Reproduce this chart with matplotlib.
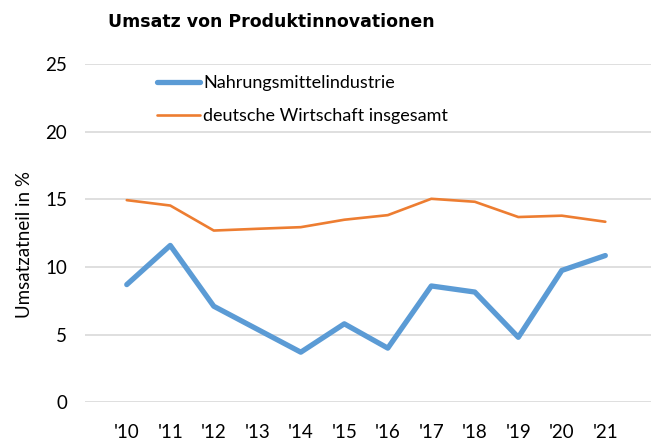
import matplotlib
matplotlib.use("Agg")
import matplotlib.pyplot as plt

years = ["'10", "'11", "'12", "'13", "'14", "'15", "'16", "'17", "'18", "'19", "'20", "'21"]
nahrung = [8.7, 11.6, 7.1, 5.4, 3.7, 5.8, 4.0, 8.6, 8.15, 4.8, 9.75, 10.85]
gesamt = [14.95, 14.55, 12.7, 12.83, 12.95, 13.5, 13.84, 15.05, 14.83, 13.7, 13.8, 13.35]
yticks = [0, 5, 10, 15, 20, 25]

BASE = "Lato"
FS = 13.5
fig = plt.figure(figsize=(6.51, 4.43), dpi=100)
ax = fig.add_axes([85/651, 1-402.2/443, 1-85/651, (402.2-64.3)/443])
x = list(range(len(years)))
ax.plot(x, nahrung, color="#5B9BD5", lw=3.8, solid_capstyle="round", solid_joinstyle="round",
        label="Nahrungsmittelindustrie", zorder=3)
ax.plot(x, gesamt, color="#ED7D31", lw=1.9, solid_capstyle="round", solid_joinstyle="round",
        label="deutsche Wirtschaft insgesamt", zorder=3)
ax.set_xlim(-0.96, 12.05)
ax.set_ylim(0, 25)
ax.set_yticks(yticks)
ax.set_yticklabels([str(v) for v in yticks], fontsize=FS, family=BASE)
ax.set_xticks(x)
ax.set_xticklabels(years, fontsize=FS, family=BASE)
ax.grid(axis="y", color="#D9D9D9", lw=1.2)
ax.set_axisbelow(True)
for s in ax.spines.values():
    s.set_visible(False)
ax.tick_params(length=0)
ax.tick_params(axis="x", pad=16)
ax.tick_params(axis="y", pad=13)
fig.text(25/651, 1-245/443, "Umsatzatneil in %", rotation=90, ha="center", va="center",
         fontsize=FS, family=BASE)
fig.text(271/651, 1-22/443, "Umsatz von Produktinnovationen", ha="center", va="center",
         fontsize=12.5, fontweight="bold", family="DejaVu Sans")
leg = ax.legend(loc="upper left", bbox_to_anchor=(157/651, 1-75/443), bbox_transform=fig.transFigure,
                frameon=False, prop={"family": BASE, "size": 13},
                handlelength=2.4, handletextpad=0.15, labelspacing=0.95, borderaxespad=0, borderpad=0)
fig.savefig("out.png", dpi=100)
